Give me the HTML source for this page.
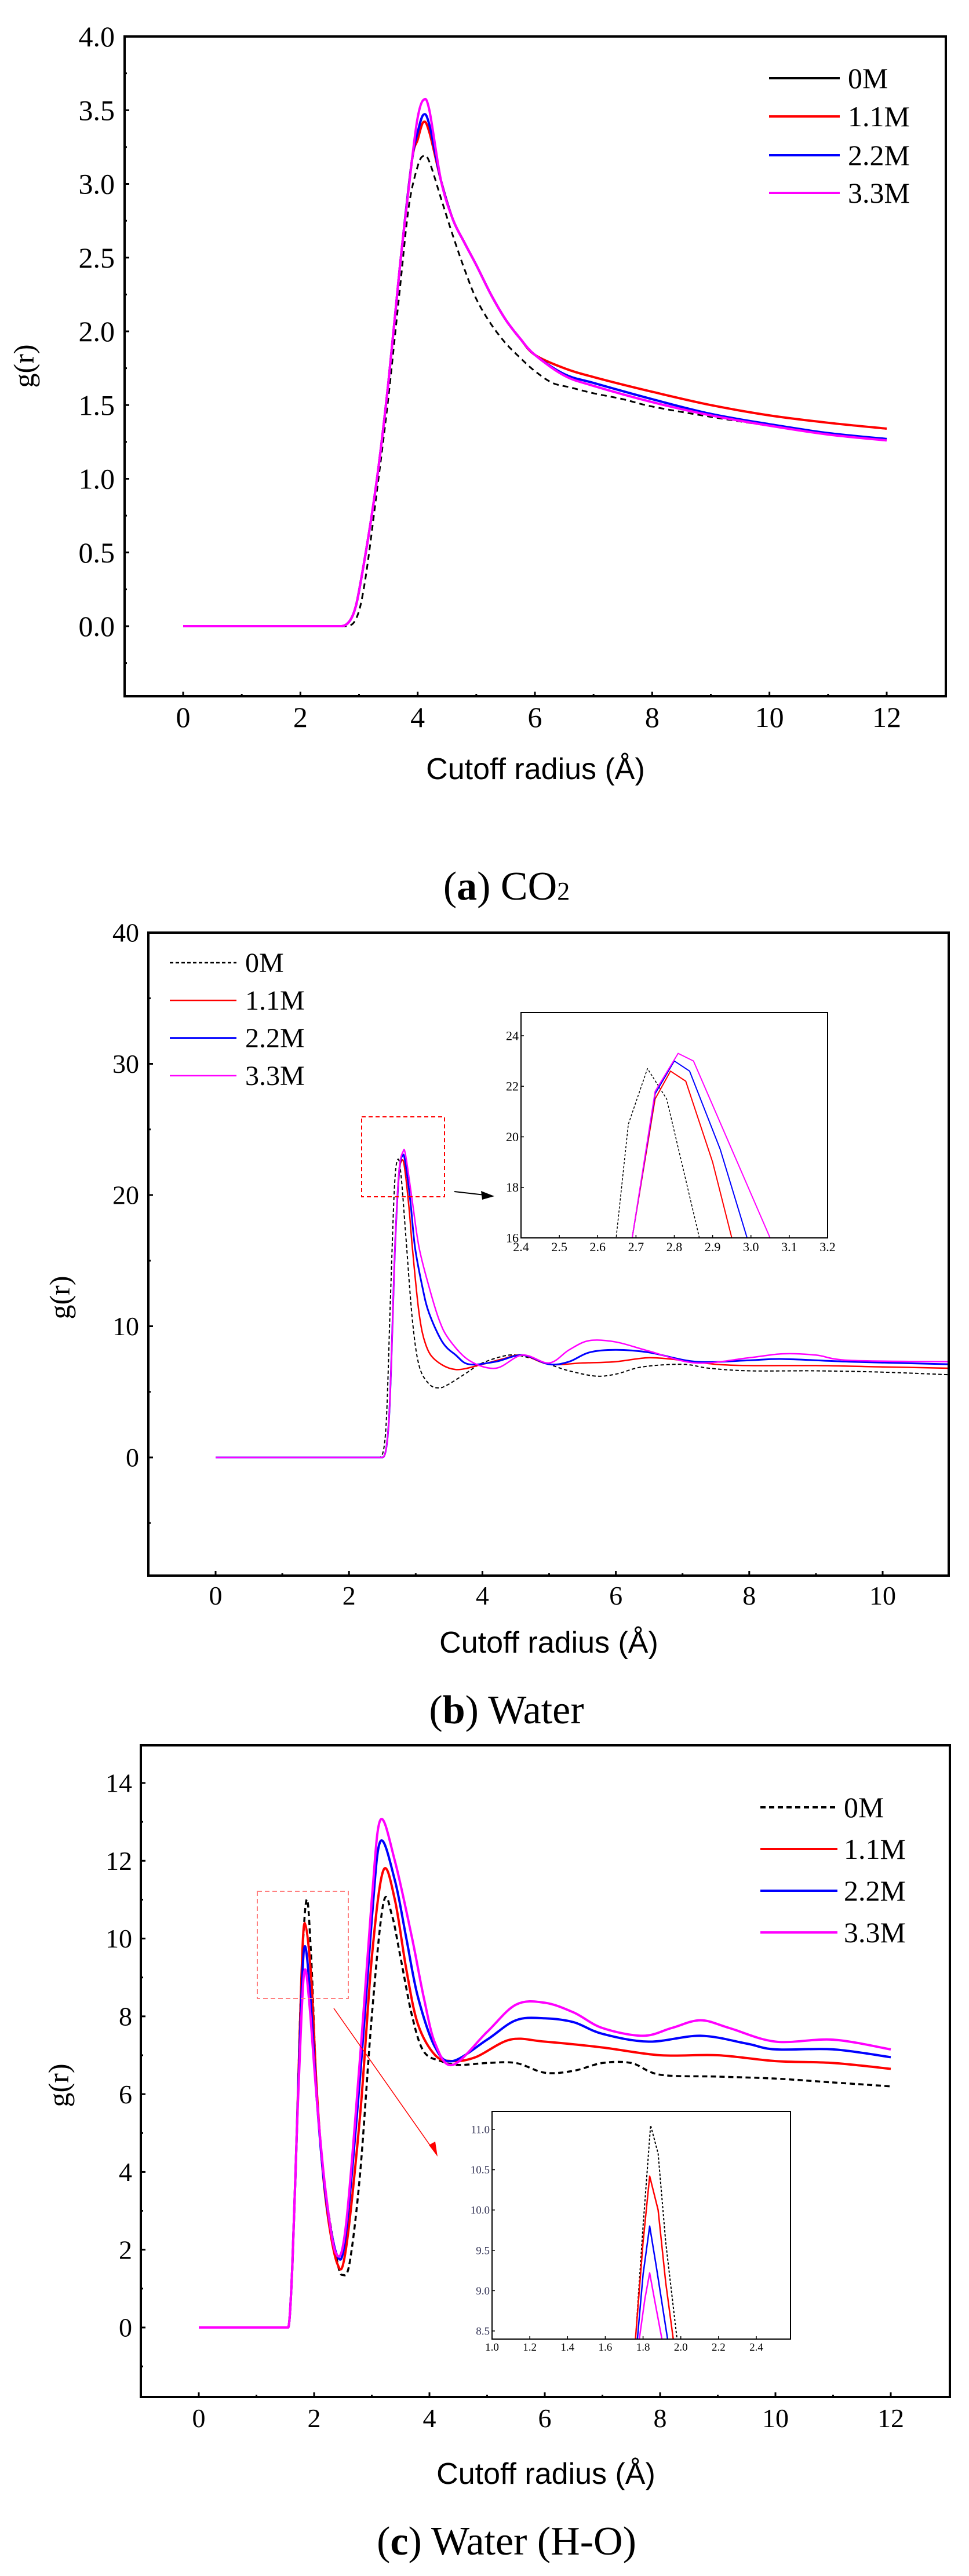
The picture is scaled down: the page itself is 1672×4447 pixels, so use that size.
<!DOCTYPE html>
<html><head><meta charset="utf-8">
<style>
html,body{margin:0;padding:0;background:#fff;}
svg{display:block;}
text{font-family:"Liberation Serif",serif;}
.ax{font-family:"Liberation Sans",sans-serif;}
</style></head>
<body>
<svg id="s" xmlns="http://www.w3.org/2000/svg" width="1672" height="4447" viewBox="0 0 1672 4447">
<rect width="1672" height="4447" fill="#fff"/>
<g id="g"></g>
</svg>
<script>
const NS="http://www.w3.org/2000/svg";
const G=document.getElementById('g');
function el(t,a,txt){const e=document.createElementNS(NS,t);for(const k in a)e.setAttribute(k,a[k]);if(txt!==undefined)e.textContent=txt;G.appendChild(e);return e;}
let clipId=0;
function pathD(P,smooth,Z){
  if(!smooth)return P.map((p,i)=>(i?'L':'M')+p[0].toFixed(1)+','+p[1].toFixed(1)).join(' ');
  let d='M'+P[0][0].toFixed(1)+','+P[0][1].toFixed(1);
  for(let i=0;i<P.length-1;i++){
    const p1=P[i],p2=P[i+1];
    if(Z[i]&&Z[i+1]){d+=' L'+p2[0].toFixed(1)+','+p2[1].toFixed(1);continue;}
    let p0=P[i-1]||P[i],p3=P[i+2]||P[i+1];
    if(Z[i])p0=[p1[0]-(p2[0]-p1[0]),p1[1]];
    const t=1/6;
    const c1=[p1[0]+(p2[0]-p0[0])*t,Z[i]?p1[1]:p1[1]+(p2[1]-p0[1])*t];
    const c2=[p2[0]-(p3[0]-p1[0])*t,p2[1]-(p3[1]-p1[1])*t];
    d+=' C'+c1[0].toFixed(1)+','+c1[1].toFixed(1)+' '+c2[0].toFixed(1)+','+c2[1].toFixed(1)+' '+p2[0].toFixed(1)+','+p2[1].toFixed(1);
  }
  return d;
}
function panel(c){
  const X=v=>c.px0+(v-c.x0)*(c.px1-c.px0)/(c.x1-c.x0);
  const Y=v=>c.py0+(v-c.y0)*(c.py1-c.py0)/(c.y1-c.y0);
  const id='c'+(clipId++);
  const cp=document.createElementNS(NS,'clipPath');cp.setAttribute('id',id);
  const r=document.createElementNS(NS,'rect');
  r.setAttribute('x',c.L);r.setAttribute('y',c.T);r.setAttribute('width',c.R-c.L);r.setAttribute('height',c.B-c.T);
  cp.appendChild(r);G.appendChild(cp);
  for(const s of c.series){
    const d=pathD(s.pts.map(p=>[X(p[0]),Y(p[1])]),c.smooth,s.pts.map(p=>p[1]===0));
    const a={d:d,fill:'none',stroke:s.col,'stroke-width':s.w||c.lw,'stroke-linejoin':'round','clip-path':'url(#'+id+')'};
    if(s.dash)a['stroke-dasharray']=s.dash;
    el('path',a);
  }
  el('rect',{x:c.L,y:c.T,width:c.R-c.L,height:c.B-c.T,fill:'none',stroke:'#000','stroke-width':c.fw});
  for(const t of c.xt){el('line',{x1:X(t),x2:X(t),y1:c.B,y2:c.B-c.tl,stroke:'#000','stroke-width':c.tw});
    el('text',{x:X(t),y:c.xly,'font-size':c.fs,'text-anchor':'middle'},c.xf?c.xf(t):t);}
  if(c.xm)for(const t of c.xm)el('line',{x1:X(t),x2:X(t),y1:c.B,y2:c.B-c.tl/2,stroke:'#000','stroke-width':c.tw});
  for(const t of c.yt){el('line',{x1:c.L,x2:c.L+c.tl,y1:Y(t),y2:Y(t),stroke:'#000','stroke-width':c.tw});
    el('text',{x:c.ylx,y:Y(t)+c.fs*0.34,'font-size':c.fs,'text-anchor':'end',fill:c.ycol||'#000'},c.yf?c.yf(t):t);}
  if(c.ym)for(const t of c.ym)el('line',{x1:c.L,x2:c.L+c.tl/2,y1:Y(t),y2:Y(t),stroke:'#000','stroke-width':c.tw});
}
const K='#000',RD='#ff0000',BL='#0000ff',MG='#ff00ff';
function rng(a,b,s){const r=[];for(let v=a;v<=b+1e-9;v+=s)r.push(+v.toFixed(3));return r;}

/* ---------- Panel a ---------- */
const a0=[[0,0],[2.75,0],[2.95,0.05],[3.1,0.3],[3.3,0.9],[3.5,1.55],[3.7,2.3],[3.85,2.85],[4.0,3.12],[4.1,3.19],[4.2,3.15],[4.4,2.9],[4.6,2.65],[4.8,2.42],[5.0,2.22],[5.25,2.05],[5.5,1.92],[5.75,1.82],[6.0,1.73],[6.3,1.65],[6.6,1.62],[7.0,1.58],[7.5,1.54],[8,1.49],[9,1.42],[10,1.36],[11,1.31],[12,1.27]];
function aCol(pk,tail){return [[0,0],[2.7,0],[2.9,0.08],[3.05,0.35],[3.3,0.98],[3.5,1.65],[3.7,2.45],[3.9,3.15],[4.0,pk-0.12],[4.1,pk],[4.2,pk-0.07],[4.4,3.02],[4.6,2.76],[4.8,2.6],[5.0,2.45],[5.25,2.25],[5.5,2.08],[5.75,1.95],[6.0,1.84],[6.5,tail[0]],[7.0,tail[1]],[8,tail[2]],[9,tail[3]],[10,tail[4]],[11,tail[5]],[12,tail[6]]];}
const aR=aCol(3.42,[1.75,1.69,1.59,1.5,1.43,1.38,1.34]);
const aB=aCol(3.47,[1.71,1.65,1.54,1.44,1.37,1.31,1.27]);
const aM=aCol(3.57,[1.7,1.63,1.52,1.43,1.36,1.3,1.26]);
panel({L:215,R:1632,T:63,B:1202,px0:316,px1:1530,x0:0,x1:12,py0:1081,py1:63,y0:0,y1:4,smooth:true,
 lw:4,fw:4,tw:3,tl:8,fs:50,xly:1255,ylx:198,
 xt:[0,2,4,6,8,10,12],xm:[1,3,5,7,9,11],yt:[0,0.5,1,1.5,2,2.5,3,3.5,4],yf:t=>t.toFixed(1),ym:rng(-0.25,3.75,0.5),
 series:[{pts:a0,col:K,dash:'10,7',w:3},{pts:aR,col:RD},{pts:aB,col:BL},{pts:aM,col:MG}]});
el('text',{x:58,y:632,'font-size':50,'text-anchor':'middle',transform:'rotate(-90 58 632)'},'g(r)');
el('text',{x:924,y:1345,'font-size':52,'text-anchor':'middle',class:'ax'},'Cutoff radius (Å)');
[[K,'0M',135],[RD,'1.1M',201],[BL,'2.2M',268],[MG,'3.3M',333]].forEach(l=>{
 el('line',{x1:1327,x2:1449,y1:l[2],y2:l[2],stroke:l[0],'stroke-width':4});
 el('text',{x:1463,y:l[2]+17,'font-size':50},l[1]);});
{const t=el('text',{x:874,y:1553,'font-size':70,'text-anchor':'middle'});
 t.innerHTML='(<tspan font-weight="bold">a</tspan>) CO<tspan font-size="44">2</tspan>';}

/* ---------- Panel b ---------- */
const b0=[[0,0],[2.45,0],[2.55,2],[2.62,12],[2.68,20.5],[2.73,22.7],[2.78,21.5],[2.85,17],[2.95,10.5],[3.05,7],[3.2,5.6],[3.35,5.3],[3.5,5.6],[3.75,6.4],[4.0,7.2],[4.4,7.8],[4.7,7.6],[5.0,7.1],[5.3,6.6],[5.7,6.2],[6.0,6.35],[6.4,6.9],[7.0,7.1],[7.4,6.8],[8,6.6],[9,6.6],[10,6.5],[11,6.3]];
const bR=[[0,0],[2.5,0],[2.6,3],[2.69,16],[2.75,21.5],[2.79,22.6],[2.83,22.2],[2.9,19],[2.95,16],[3.05,11],[3.15,8.6],[3.3,7.4],[3.6,6.7],[4.0,7.1],[4.3,7.5],[4.6,7.8],[5.0,7.1],[5.5,7.2],[6.0,7.3],[6.5,7.6],[7.0,7.4],[7.5,7.1],[8,7.0],[9,7.0],[10,6.9],[11,6.8]];
const bB=[[0,0],[2.5,0],[2.6,3],[2.69,16],[2.75,21.7],[2.8,23],[2.84,22.6],[2.92,19.5],[2.99,16],[3.1,13],[3.2,11],[3.4,8.8],[3.6,7.8],[3.8,7.1],[4.2,7.3],[4.6,7.8],[5.0,7.1],[5.3,7.3],[5.6,8.0],[6.0,8.2],[6.5,8.0],[7.2,7.3],[8,7.4],[8.5,7.5],[9.5,7.3],[11,7.1]];
const bM=[[0,0],[2.5,0],[2.6,3],[2.69,16],[2.75,21.8],[2.81,23.3],[2.85,23],[2.95,19.5],[3.05,16],[3.2,13],[3.35,10.5],[3.5,9],[3.8,7.4],[4.2,6.8],[4.6,7.8],[5.0,7.2],[5.3,8.2],[5.6,8.9],[6.0,8.8],[6.5,8.1],[7.2,7.2],[8,7.6],[8.5,7.9],[9,7.8],[9.5,7.4],[11,7.3]];
panel({L:256,R:1637,T:1610,B:2720,px0:372,px1:1523,x0:0,x1:10,py0:2516,py1:1610,y0:0,y1:40,smooth:true,
 lw:2.5,fw:4,tw:3,tl:8,fs:46,xly:2770,ylx:240,
 xt:[0,2,4,6,8,10],xm:[1,3,5,7,9],yt:[0,10,20,30,40],ym:[-5,5,15,25,35],
 series:[{pts:b0,col:K,dash:'6,4',w:2},{pts:bR,col:RD},{pts:bB,col:BL,w:3},{pts:bM,col:MG}]});
el('text',{x:120,y:2240,'font-size':50,'text-anchor':'middle',transform:'rotate(-90 120 2240)'},'g(r)');
el('text',{x:947,y:2853,'font-size':52,'text-anchor':'middle',class:'ax'},'Cutoff radius (Å)');
[[K,'0M',1662,'6,4'],[RD,'1.1M',1727],[BL,'2.2M',1792],[MG,'3.3M',1857]].forEach(l=>{
 const a={x1:293,x2:408,y1:l[2],y2:l[2],stroke:l[0],'stroke-width':l[0]==BL?3.5:2.5};if(l[3])a['stroke-dasharray']=l[3];
 el('line',a);el('text',{x:423,y:l[2]+16,'font-size':48},l[1]);});
el('rect',{x:624,y:1928,width:143,height:138,fill:'none',stroke:RD,'stroke-width':2,'stroke-dasharray':'7,5'});
el('line',{x1:784,y1:2057,x2:845,y2:2064,stroke:K,'stroke-width':2});
el('path',{d:'M853,2065 L830,2056 L832,2071 Z',fill:K});
panel({L:899,R:1428,T:1748,B:2137,px0:899,px1:1428,x0:2.4,x1:3.2,py0:2137,py1:1788,y0:16,y1:24,
 lw:2,fw:2,tw:1.5,tl:5,fs:22,xly:2160,ylx:895,
 xt:[2.4,2.5,2.6,2.7,2.8,2.9,3.0,3.1,3.2],xf:t=>t.toFixed(1),yt:[16,18,20,22,24],
 series:[{pts:b0.slice(2,9),col:K,dash:'4,3',w:1.5},{pts:bR.slice(3,9),col:RD},{pts:bB.slice(3,9),col:BL},{pts:bM.slice(3,10),col:MG}]});
{const t=el('text',{x:874,y:2975,'font-size':70,'text-anchor':'middle'});
 t.innerHTML='(<tspan font-weight="bold">b</tspan>) Water';}

/* ---------- Panel c ---------- */
const c0=[[0,0],[1.55,0],[1.62,1.5],[1.7,5],[1.78,9],[1.87,11],[1.95,9.5],[2.05,6],[2.2,3.5],[2.4,1.7],[2.5,1.35],[2.62,1.7],[2.8,4],[3.0,8],[3.2,10.9],[3.35,10.6],[3.5,9.5],[3.7,8],[3.9,7.1],[4.2,6.85],[4.5,6.75],[5,6.8],[5.5,6.8],[6,6.55],[6.5,6.6],[7,6.8],[7.5,6.8],[8,6.5],[9,6.45],[10,6.4],[11,6.3],[12,6.2]];
const cR=[[0,0],[1.55,0],[1.62,1.5],[1.7,5],[1.78,9],[1.84,10.4],[1.95,9],[2.05,6],[2.2,3.3],[2.4,1.65],[2.55,2.0],[2.8,5.5],[3.0,9.5],[3.2,11.75],[3.4,11],[3.6,9.2],[3.8,7.8],[4.1,7.0],[4.4,6.85],[4.8,6.95],[5.4,7.4],[6,7.35],[7,7.2],[8,7.0],[9,7.0],[10,6.85],[11,6.8],[12,6.65]];
const cB=[[0,0],[1.55,0],[1.62,1.5],[1.7,5],[1.78,8.5],[1.84,9.8],[1.93,8.6],[2.05,5.8],[2.2,3.4],[2.4,1.85],[2.55,2.4],[2.8,6.5],[3.0,10.5],[3.15,12.5],[3.4,11.5],[3.6,10],[3.8,8.5],[4.1,7.2],[4.4,6.85],[5.0,7.4],[5.5,7.9],[6,7.95],[6.5,7.85],[7,7.55],[7.8,7.35],[8.7,7.5],[9.5,7.3],[10,7.15],[11,7.15],[12,6.95]];
const cM=[[0,0],[1.55,0],[1.62,1.5],[1.7,5],[1.78,8],[1.84,9.2],[1.92,8.3],[2.05,5.8],[2.2,3.5],[2.38,1.9],[2.55,2.6],[2.8,7],[3.0,11],[3.15,13.05],[3.4,12],[3.7,10],[3.9,8.5],[4.1,7.3],[4.4,6.75],[5.0,7.6],[5.5,8.3],[6,8.35],[6.5,8.1],[7,7.7],[7.7,7.5],[8.2,7.7],[8.7,7.9],[9.2,7.7],[10,7.35],[11,7.4],[12,7.15]];
panel({L:243,R:1639,T:3013,B:4138,px0:343,px1:1537,x0:0,x1:12,py0:4018,py1:3078,y0:0,y1:14,smooth:true,
 lw:4,fw:4,tw:3,tl:8,fs:46,xly:4190,ylx:228,
 xt:[0,2,4,6,8,10,12],xm:[1,3,5,7,9,11],yt:[0,2,4,6,8,10,12,14],ym:rng(-1,13,2),
 series:[{pts:c0,col:K,dash:'9,6',w:3.5},{pts:cR,col:RD},{pts:cB,col:BL},{pts:cM,col:MG}]});
el('text',{x:118,y:3600,'font-size':50,'text-anchor':'middle',transform:'rotate(-90 118 3600)'},'g(r)');
el('text',{x:942,y:4288,'font-size':52,'text-anchor':'middle',class:'ax'},'Cutoff radius (Å)');
[[K,'0M',3120,'9,6'],[RD,'1.1M',3192],[BL,'2.2M',3264],[MG,'3.3M',3336]].forEach(l=>{
 const a={x1:1312,x2:1445,y1:l[2],y2:l[2],stroke:l[0],'stroke-width':4};if(l[3])a['stroke-dasharray']=l[3];
 el('line',a);el('text',{x:1456,y:l[2]+17,'font-size':50},l[1]);});
el('rect',{x:444,y:3265,width:157,height:185,fill:'none',stroke:'#ff8080','stroke-width':2,'stroke-dasharray':'8,5'});
el('line',{x1:576,y1:3467,x2:748,y2:3712,stroke:RD,'stroke-width':1.5});
el('path',{d:'M755,3723 L740,3703 L751,3697 Z',fill:RD});
panel({L:849,R:1364,T:3645,B:4038,px0:849,px1:1305,x0:1.0,x1:2.4,py0:4024,py1:3676,y0:8.5,y1:11,
 lw:2.5,fw:2,tw:1.5,tl:5,fs:19,xly:4058,ylx:845,ycol:'#335',
 xt:[1.0,1.2,1.4,1.6,1.8,2.0,2.2,2.4],xf:t=>t.toFixed(1),yt:[8.5,9,9.5,10,10.5,11],yf:t=>t.toFixed(1),
 series:[{pts:[[1.76,8.4],[1.8,9.8],[1.84,11.05],[1.88,10.7],[1.92,9.6],[1.98,8.4]],col:K,dash:'4,3',w:2},
 {pts:[[1.76,8.4],[1.8,9.6],[1.835,10.42],[1.88,10],[1.92,9.1],[1.96,8.4]],col:RD},
 {pts:[[1.77,8.4],[1.8,9.2],[1.835,9.8],[1.87,9.3],[1.93,8.4]],col:BL},
 {pts:[[1.78,8.4],[1.81,8.9],[1.835,9.22],[1.86,8.9],[1.9,8.4]],col:MG}]});
{const t=el('text',{x:874,y:4410,'font-size':70,'text-anchor':'middle'});
 t.innerHTML='(<tspan font-weight="bold">c</tspan>) Water (H-O)';}
</script>
</body></html>
